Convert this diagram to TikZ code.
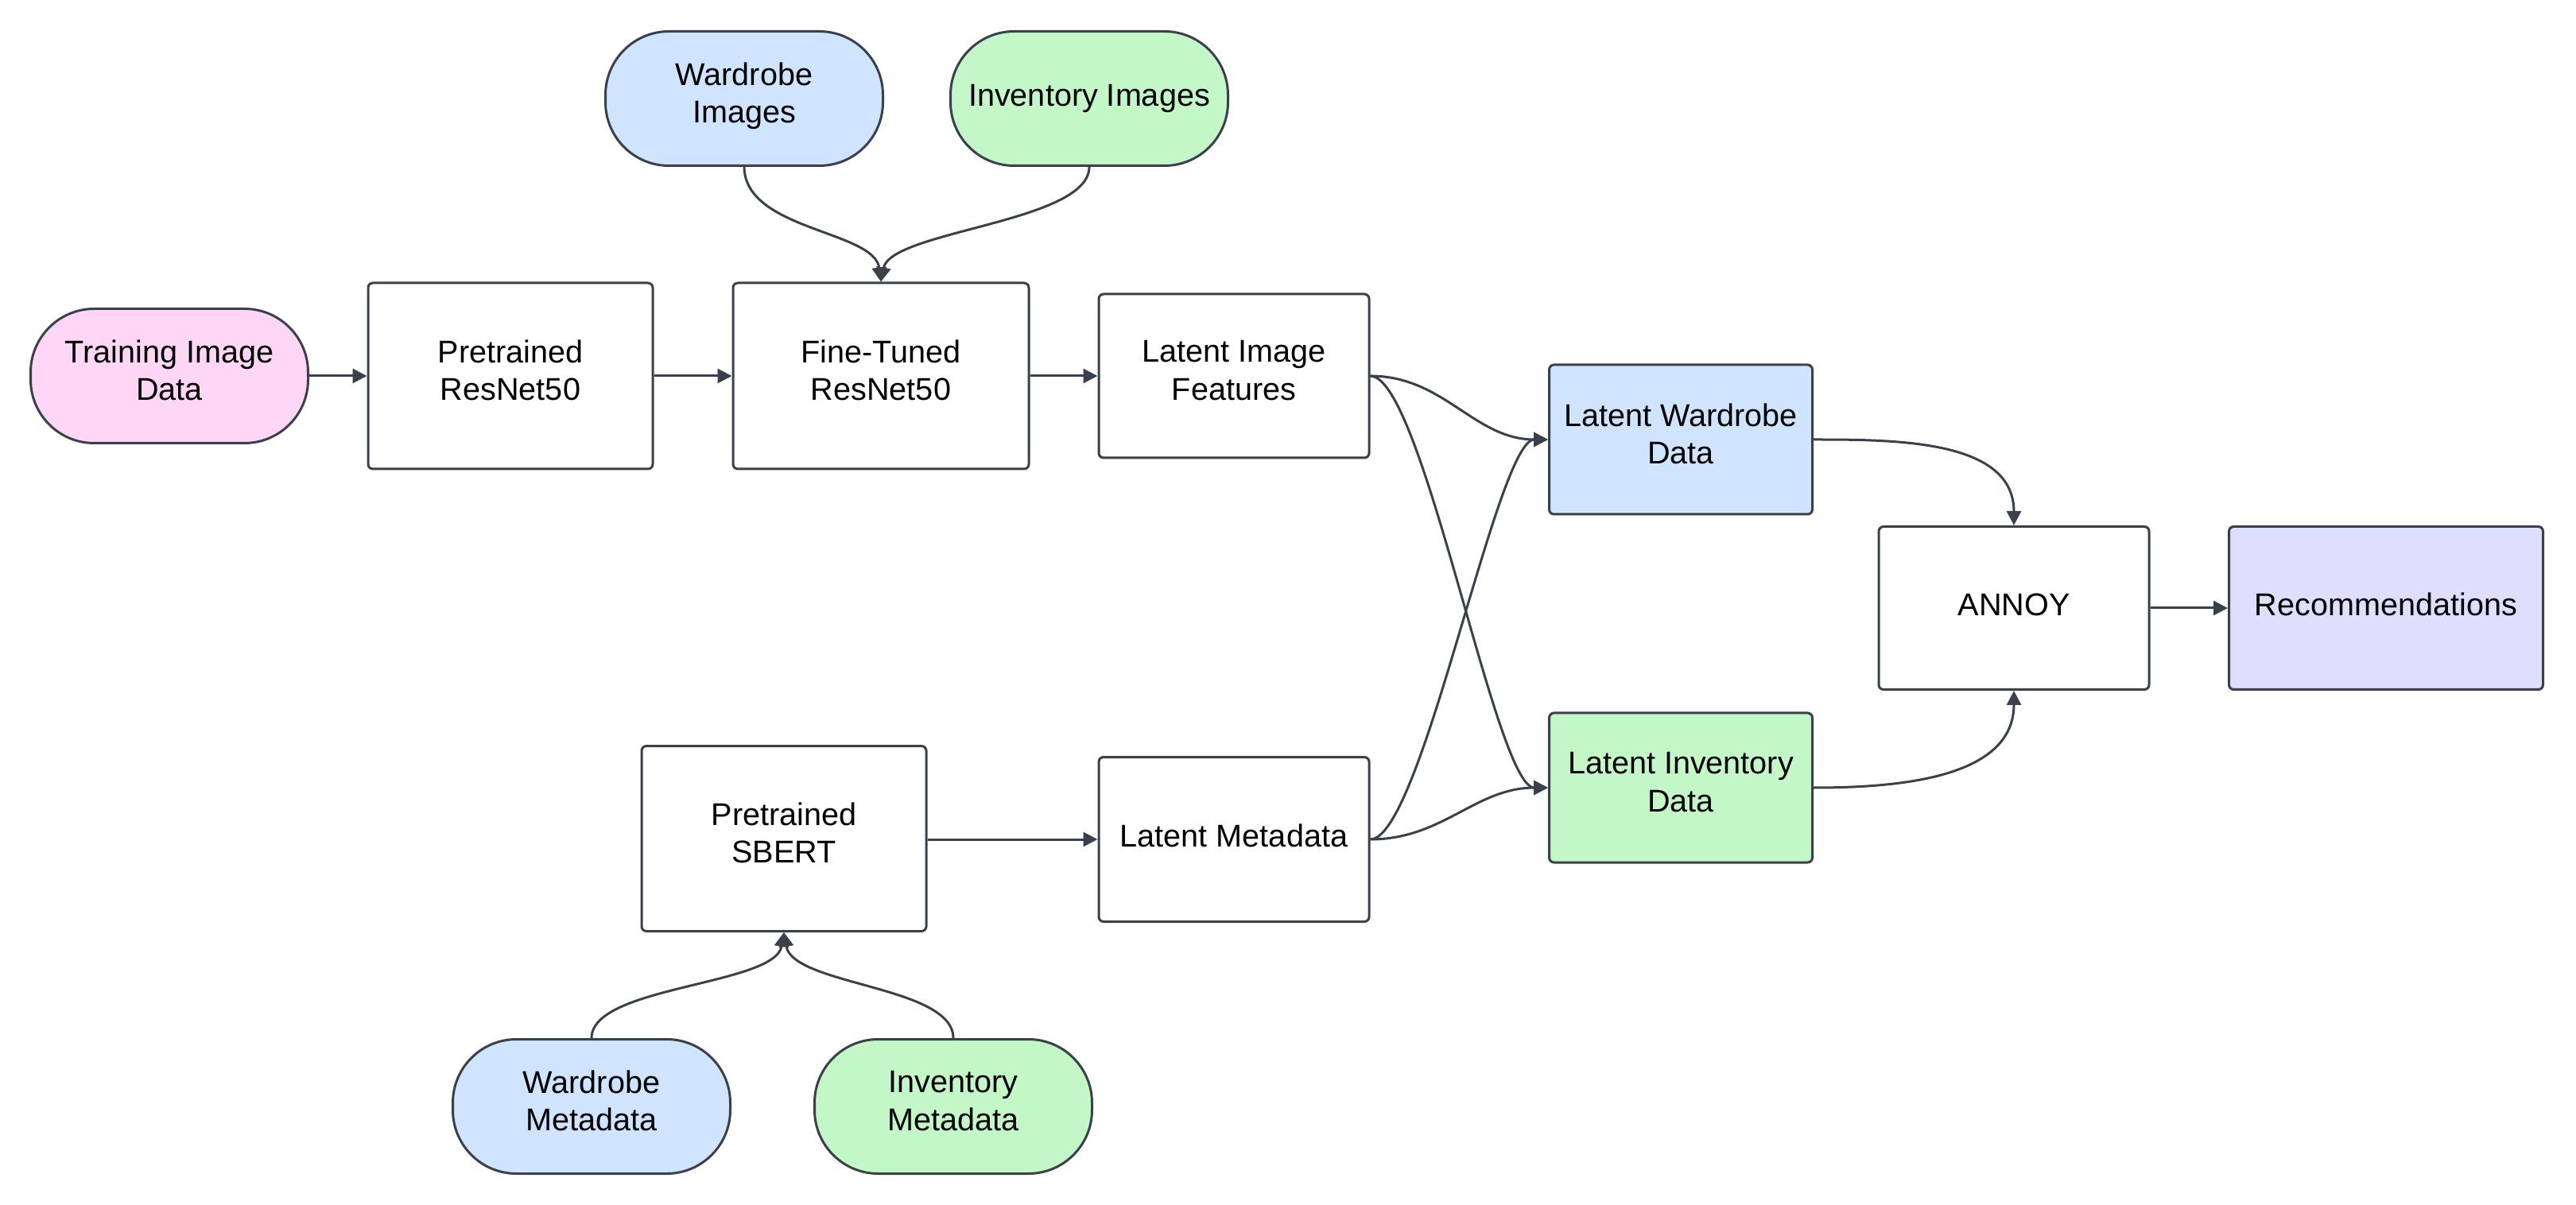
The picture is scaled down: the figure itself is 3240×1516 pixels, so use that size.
\documentclass[tikz,border=0pt]{standalone}
\usepackage{fontspec}
\setmainfont{Liberation Sans}
\usetikzlibrary{arrows.meta}
\definecolor{lc}{HTML}{3A414A}
\definecolor{cpink}{HTML}{FFD6F5}
\definecolor{cblue}{HTML}{CFE4FF}
\definecolor{cgreen}{HTML}{C3F7C8}
\definecolor{clav}{HTML}{DEDEFF}
\begin{document}
\begin{tikzpicture}[x=0.25pt,y=-0.25pt,
  font=\fontsize{9.9}{11.8}\selectfont,
  every node/.style={execute at begin node=\strut, execute at end node=\strut},
  box/.style={draw=lc, line width=0.75pt, rounded corners=1.5pt, align=center, inner sep=0pt, fill=white},
  term/.style={draw=lc, line width=0.75pt, rounded corners=20pt, align=center, inner sep=0pt,
    minimum width=87.25pt, minimum height=42.25pt},
  conn/.style={draw=lc, line width=0.75pt, -{Triangle[length=4.5pt,width=4.5pt]}},
  cross/.style={out=0, in=180, looseness=0.3}]
\useasboundingbox (0,0) rectangle (3240,1516);
% terminators
\node[term, fill=cpink] (tid) at (213,473) {Training Image\\Data};
\node[term, fill=cblue] (wi) at (936,124) {Wardrobe\\Images};
\node[term, fill=cgreen] (ii) at (1370,124) {Inventory Images};
\node[term, fill=cblue] (wm) at (744,1392) {Wardrobe\\Metadata};
\node[term, fill=cgreen] (im) at (1199,1392) {Inventory\\Metadata};
% boxes
\node[box, minimum width=89.5pt, minimum height=58.5pt] (pr) at (642,473) {Pretrained\\ResNet50};
\node[box, minimum width=93pt, minimum height=58.5pt] (ft) at (1108,473) {Fine-Tuned\\ResNet50};
\node[box, minimum width=85pt, minimum height=51.5pt] (lif) at (1552,473) {Latent Image\\Features};
\node[box, minimum width=89.5pt, minimum height=58.25pt] (sb) at (986,1055) {Pretrained\\SBERT};
\node[box, minimum width=85pt, minimum height=51.75pt] (lm) at (1552,1056) {Latent Metadata};
\node[box, fill=cblue, minimum width=82.75pt, minimum height=47pt] (lwd) at (2114,553) {Latent Wardrobe\\Data};
\node[box, fill=cgreen, minimum width=82.75pt, minimum height=47pt] (lid) at (2114,991) {Latent Inventory\\Data};
\node[box, minimum width=85pt, minimum height=51.25pt] (ann) at (2533,765) {ANNOY};
\node[box, fill=clav, minimum width=98.75pt, minimum height=51.25pt] (rec) at (3001,765) {Recommendations};
% connectors
\draw[conn] (tid.east) -- (pr.west);
\draw[conn] (pr.east) -- (ft.west);
\draw[conn] (ft.east) -- (lif.west);
\draw[conn] (wi.south) .. controls (937,290) and (1100,290) .. (ft.north);
\draw[conn] (ii.south) .. controls (1370,280) and (1120,290) .. (ft.north);
\draw[conn] (wm.north) .. controls (744,1240) and (975,1240) .. (sb.south);
\draw[conn] (im.north) .. controls (1199,1240) and (997,1240) .. (sb.south);
\draw[conn] (sb.east |- lm.west) -- (lm.west);
\draw[conn] (lif.east) to[out=0,in=180] (lwd.west);
\draw[conn] (lif.east) to[cross] (lid.west);
\draw[conn] (lm.east) to[cross] (lwd.west);
\draw[conn] (lm.east) to[out=0,in=180] (lid.west);
\draw[conn] (lwd.east) to[out=0,in=90] (ann.north);
\draw[conn] (lid.east) to[out=0,in=-90] (ann.south);
\draw[conn] (ann.east) -- (rec.west);
\end{tikzpicture}
\end{document}
